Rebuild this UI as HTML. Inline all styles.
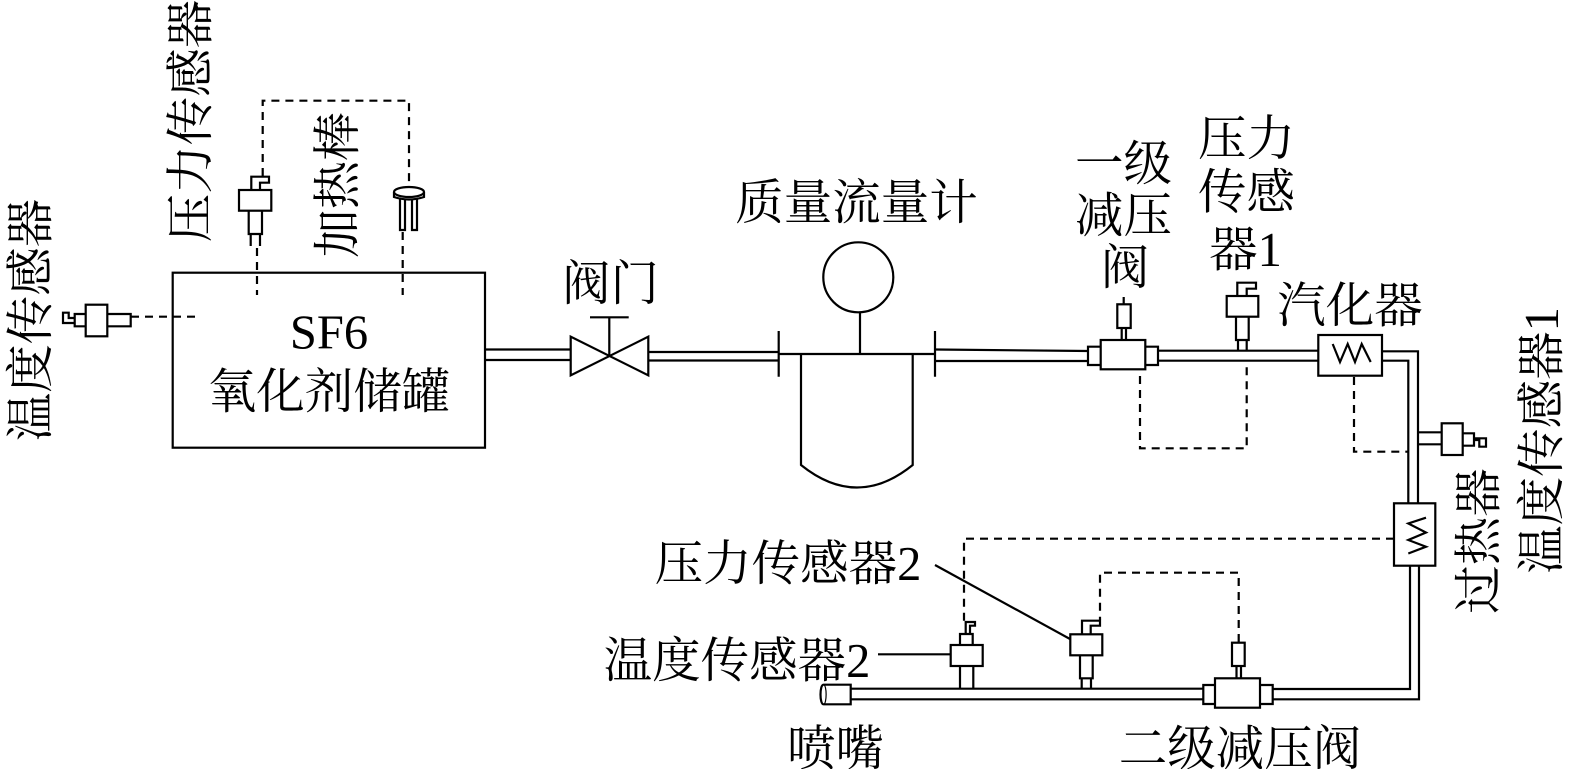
<!DOCTYPE html>
<html><head><meta charset="utf-8"><style>
html,body{margin:0;padding:0;background:#fff;width:1575px;height:769px;overflow:hidden}
svg{display:block}
text{font-family:"Liberation Serif","Noto Serif CJK SC",serif;font-size:48.5px;fill:#000;text-anchor:middle}
</style></head><body>
<svg width="1575" height="769" viewBox="0 0 1575 769" xmlns="http://www.w3.org/2000/svg">
<g fill="none" stroke="#000" stroke-width="2.2">
<rect x="172.7" y="272.7" width="312.3" height="175"/>
<path d="M485 349.5H571M485 360H571M648 352H778M648 360.5H778M935 349.5L1088 351M935 361L1088 361"/>
<path d="M570.7 336.7V375.3L648.3 336.7V375.3Z"/>
<path d="M609.3 356V317.3M590 317.3H628.7"/>
<path d="M778.7 331V376.7M935 331V376.7M778 354H935"/>
<circle cx="858.3" cy="277.3" r="35"/>
<path d="M860 312V354M801 354V465Q857 510 912.7 465V354"/>
<!-- reducer 1 -->
<rect x="1100.7" y="340" width="44.6" height="29.3"/>
<path d="M1100.7 346.7H1088V365H1100.7M1145.3 346.7H1158V365H1145.3"/>
<rect x="1117.3" y="304.3" width="13.4" height="23.7"/>
<path d="M1121.7 328V340M1126 328V340M1123.7 297V304"/>
<!-- sensor 1 -->
<path d="M1158 350.7H1319M1158 360.7H1319"/>
<rect x="1226.7" y="296" width="31.6" height="20.7"/>
<path d="M1236 316.7V340H1248.7V316.7M1238 340V350.7M1246.7 340V350.7"/>
<path d="M1237.3 296V282.7H1256V288.7H1246.7V296"/>
<!-- vaporizer -->
<rect x="1318.3" y="335" width="63.7" height="40.7"/>
<path d="M1332.7 344L1340 362L1347.7 344L1355 362L1361.7 344L1370.7 362"/>
<path d="M1382 351.3H1418V503.3M1382 360.7H1408.3V503.3"/>
<!-- temp sensor 1 -->
<path d="M1418 432.3H1441.7M1418 444.3H1441.7"/>
<rect x="1441.7" y="423.3" width="21" height="31.7"/>
<path d="M1462.7 433.3H1474V445.7H1462.7"/>
<path d="M1474 438.3H1486V446.7H1479.3V440H1474"/>
<!-- superheater -->
<rect x="1394" y="503.3" width="41.3" height="62.4"/>
<path d="M1426 517.7L1408.3 523.5L1426 532.5L1408.3 540L1426 546.7L1408.3 553.5"/>
<path d="M1410 565.7V689H1272.7M1419 565.7V699.3H1272.7"/>
<!-- reducer 2 -->
<rect x="1215" y="678.3" width="45" height="29.4"/>
<path d="M1215 685H1203.3V704H1215M1260 685H1272.7V704H1260"/>
<rect x="1232" y="642.7" width="12.7" height="23.3"/>
<path d="M1236.5 666V678.3M1241 666V678.3"/>
<path d="M850.7 688.7H1203.3M850.7 699.3H1203.3"/>
<!-- sensor 2 -->
<rect x="1070.3" y="634.3" width="32" height="21"/>
<path d="M1080 655.3V678.3H1092.7V655.3M1081.7 678.3V688.7M1091 678.3V688.7"/>
<path d="M1082 634.3V620.7H1100V625.7H1090.7V634.3"/>
<path d="M935 565L1070 639"/>
<!-- temp 2 -->
<rect x="950.7" y="645" width="32" height="21"/>
<path d="M960 666V688.7M973.3 666V688.7M960 645V634H972.7V645"/>
<path d="M965.7 634V622H975V625.7H970V634"/>
<path d="M878 654.3H950.7"/>
<!-- nozzle -->
<path d="M850.7 684.7H823.5C819.5 684.7 819.5 704.3 823.5 704.3H850.7Z"/>
<path d="M823.5 684.7C827 684.7 827 704.3 823.5 704.3" stroke-width="1.2"/>
<!-- left pressure sensor -->
<rect x="239" y="190" width="32.3" height="20.7"/>
<path d="M248.7 210.7V234H262V210.7M250.7 234V246M260 234V246"/>
<path d="M251.3 190V176.7H269V182.7H260V190"/>
<!-- heater -->
<ellipse cx="409" cy="192" rx="15" ry="5"/>
<path d="M394 192V197Q409 202 424 197V192"/>
<path d="M400 199V230H405V199M412 199V230H417V199"/>
<!-- left temp sensor -->
<rect x="85.7" y="304.7" width="21.6" height="31.6"/>
<path d="M107.3 314H130.7V326.3H107.3M85.7 314H74.7V326.3H85.7"/>
<path d="M74.7 318H68.7V312.7H63V323H74.7"/>
</g>
<g fill="none" stroke="#000" stroke-width="2.2" stroke-dasharray="8 6">
<path d="M262.7 176V100.7H409V187"/>
<path d="M257 248V295M402.7 232V295"/>
<path d="M131 316.7H200"/>
<path d="M1140 376V448.3H1246.7V361"/>
<path d="M1354 377V451.7H1408"/>
<path d="M1394 538.7H964V622"/>
<path d="M1238.7 642V572.7H1100V620"/>
</g>
<g>
<text transform="translate(207,121) rotate(-90)">压力传感器</text>
<text transform="translate(354,185) rotate(-90)">加热棒</text>
<text transform="translate(47,320) rotate(-90)">温度传感器</text>
<text transform="translate(1495,541) rotate(-90)">过热器</text>
<text transform="translate(1558,440.5) rotate(-90)">温度传感器1</text>
<text x="329" y="348.5">SF6</text>
<text x="329" y="408">氧化剂储罐</text>
<text x="610.5" y="300">阀门</text>
<text x="856.5" y="219">质量流量计</text>
<text x="1123.5" y="180">一级</text>
<text x="1123.5" y="232">减压</text>
<text x="1125" y="284">阀</text>
<text x="1246.5" y="155">压力</text>
<text x="1246.5" y="208.5">传感</text>
<text x="1245.5" y="266">器1</text>
<text x="1350" y="322">汽化器</text>
<text x="788" y="580">压力传感器2</text>
<text x="737" y="677">温度传感器2</text>
<text x="835.5" y="765">喷嘴</text>
<text x="1240" y="765">二级减压阀</text>
</g>
</svg>
</body></html>
